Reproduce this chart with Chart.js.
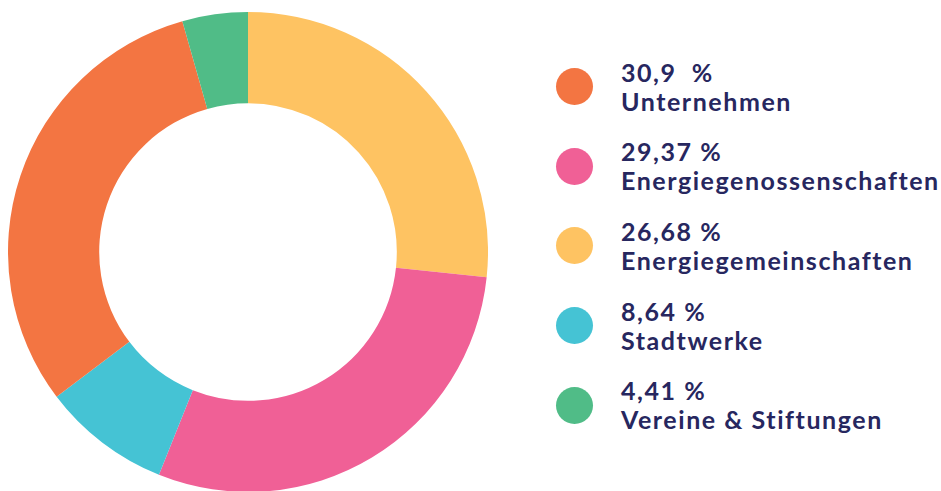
<!DOCTYPE html>
<html>
<head>
<meta charset="utf-8">
<script src="https://cdn.jsdelivr.net/npm/chart.js@4/dist/chart.umd.min.js"></script>
<style>
    html, body { margin: 0; padding: 0; background: #fff; overflow: hidden; }
    body { width: 941px; height: 491px; position: relative; font-family: 'Lato', sans-serif; }
    #wrap { position: absolute; left: 8px; top: 12px; width: 480px; height: 480px; }
    #legend { position: absolute; left: 556px; top: 47px; margin: 0; padding: 0; list-style: none; }
    #legend li { display: flex; align-items: center; height: 79.6px; }
    #legend .dot { width: 37px; height: 37px; border-radius: 50%; flex: none; margin-right: 28px; }
    #legend .txt { color: #27275f; font-weight: 700; font-size: 25px; line-height: 29px; white-space: pre; letter-spacing: 1.55px; }
</style>
</head>
<body>
<div id="wrap"><canvas id="donut"></canvas></div>
<ul id="legend"></ul>
<script>
// slices in drawing order, clockwise from 12 o'clock
const categories = ['Energiegemeinschaften', 'Energiegenossenschaften', 'Stadtwerke', 'Unternehmen', 'Vereine & Stiftungen'];
const shares = [26.68, 29.37, 8.64, 30.9, 4.41];
const shareLabels = ['26,68 %', '29,37 %', '8,64 %', '30,9  %', '4,41 %'];
const colors = ['#FEC362', '#F06096', '#45C3D4', '#F37542', '#50BC87'];
// order the legend lists them in
const legendOrder = [3, 1, 0, 2, 4];

const donut = document.getElementById('donut');
const donutCtx = donut ? donut.getContext('2d') : undefined;

if (donutCtx) {
    new Chart(donutCtx, {
        type: 'doughnut',
        data: {
            labels: categories,
            datasets: [
                {
                    data: shares,
                    backgroundColor: colors,
                    borderWidth: 0
                }
            ]
        },
        options: {
            responsive: true,
            maintainAspectRatio: false,
            animation: false,
            cutout: '62%',
            plugins: {
                legend: { display: false },
                tooltip: { enabled: false }
            }
        }
    });
}

const legend = document.getElementById('legend');
legendOrder.forEach(i => {
    const li = document.createElement('li');
    const dot = document.createElement('span');
    dot.className = 'dot';
    dot.style.background = colors[i];
    const txt = document.createElement('span');
    txt.className = 'txt';
    txt.textContent = shareLabels[i] + '\n' + categories[i];
    li.appendChild(dot);
    li.appendChild(txt);
    legend.appendChild(li);
});
</script>
</body>
</html>
